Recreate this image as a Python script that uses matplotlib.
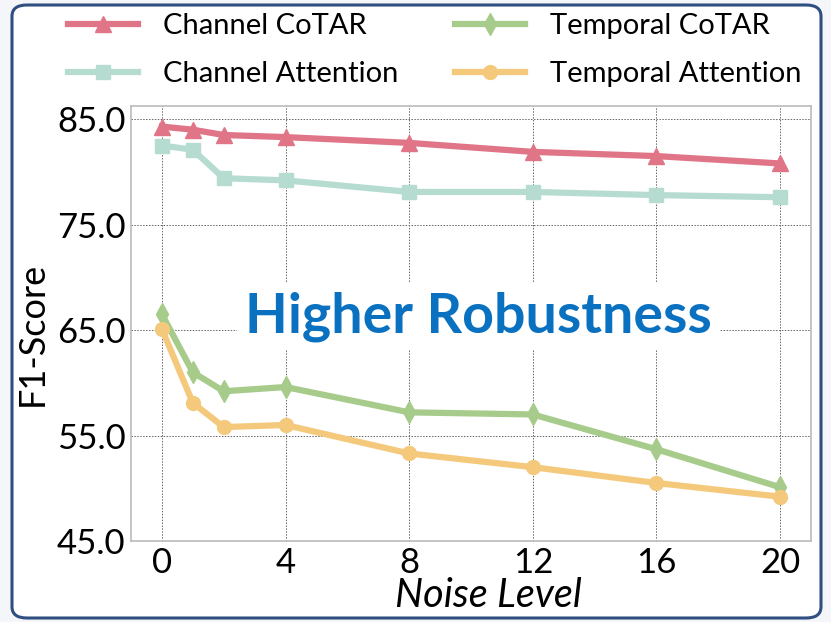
import matplotlib
matplotlib.use("Agg")
import matplotlib.pyplot as plt
from matplotlib.patches import FancyBboxPatch

plt.rcParams['font.family'] = ['Lato', 'DejaVu Sans']

noise = [0, 1, 2, 4, 8, 12, 16, 20]
channel_cotar = [84.3, 84.0, 83.5, 83.3, 82.75, 81.9, 81.5, 80.8]
channel_attn = [82.5, 82.1, 79.4, 79.2, 78.1, 78.1, 77.8, 77.6]
temporal_cotar = [66.5, 61.0, 59.2, 59.6, 57.2, 57.0, 53.7, 50.1]
temporal_attn = [65.1, 58.1, 55.8, 56.0, 53.3, 52.0, 50.5, 49.2]
xticks = [0, 4, 8, 12, 16, 20]
yticks = [45.0, 55.0, 65.0, 75.0, 85.0]

fig = plt.figure(figsize=(8.31, 6.22), dpi=100)
fig.patch.set_facecolor("#f4f6f9")

# rounded frame around the picture
frame = FancyBboxPatch((12 / 831, 4 / 622), 809 / 831, 613 / 622,
                       boxstyle="round,pad=0,rounding_size=0.018",
                       transform=fig.transFigure, facecolor="white",
                       edgecolor="#2e4f7f", linewidth=2.2, zorder=-5)
fig.patches.append(frame)

ax = fig.add_axes([131 / 831, 1 - 541 / 622, 680 / 831, 435 / 622])
ax.set_facecolor("white")

lw = 4.5
ax.plot(noise, channel_cotar, "-^", color="#e07588", lw=lw, ms=11, label="Channel CoTAR")
ax.plot(noise, channel_attn, "-s", color="#b6dcd2", lw=lw, ms=9.5, label="Channel Attention")
ax.plot(noise, temporal_cotar, "-d", color="#a6cb8b", lw=lw, ms=11, label="Temporal CoTAR")
ax.plot(noise, temporal_attn, "-o", color="#f4c97c", lw=lw, ms=10, label="Temporal Attention")

ax.set_xlim(-1, 21)
ax.set_ylim(45, 86.25)
ax.set_xticks(xticks)
ax.set_yticks(yticks)
ax.set_yticklabels([f"{v:.1f}" for v in yticks])
ax.tick_params(length=0, labelsize=25, pad=4)
ax.grid(True, linestyle=(0, (1.5, 1.5)), color="#666666", linewidth=0.7)
ax.set_axisbelow(True)
for s in ax.spines.values():
    s.set_color("#bbbbbb")
    s.set_linewidth(1.2)

ax.set_xlabel("Noise Level", fontsize=28.5, style="italic")
ax.xaxis.set_label_coords(0.525, -0.082)
ax.set_ylabel("F1-Score", fontsize=26)
ax.yaxis.set_label_coords(-0.121, 0.475)

ax.text(10.25, 66.3, "Higher Robustness", fontsize=40, fontweight="bold",
        color="#0a70c0", ha="center", va="center",
        bbox=dict(facecolor="white", edgecolor="none", pad=6))

fig.legend(loc="upper left", bbox_to_anchor=(0.068, 0.998), ncol=2, frameon=False,
           fontsize=21, handlelength=2.4, columnspacing=1.95, labelspacing=0.75,
           handletextpad=0.85, borderaxespad=0)

fig.savefig("out.png", dpi=100, facecolor=fig.get_facecolor())
